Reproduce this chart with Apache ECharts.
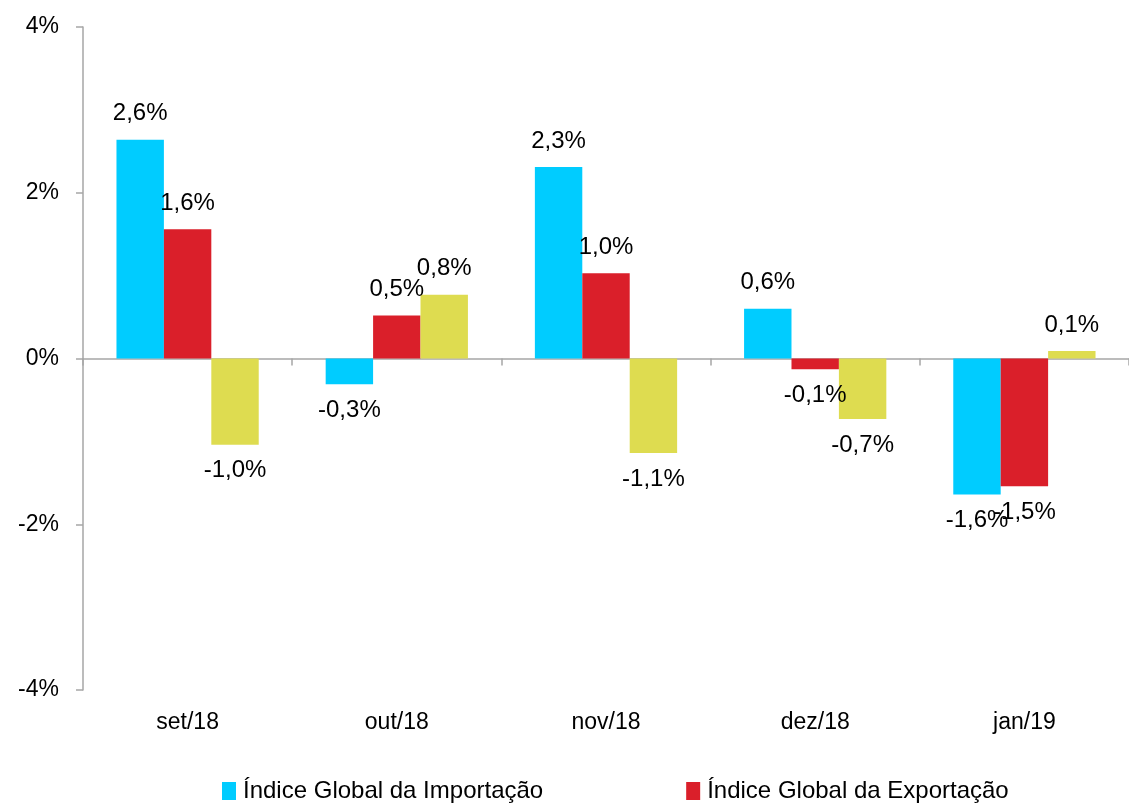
<!DOCTYPE html>
<html>
<head>
<meta charset="utf-8">
<script src="https://cdn.jsdelivr.net/npm/echarts@6/dist/echarts.min.js"></script>
<style>html,body{margin:0;padding:0;background:#fff}#c{width:1129px;height:804px}</style>
</head>
<body>
<div id="c"></div>
<script>
const categories = ['set/18', 'out/18', 'nov/18', 'dez/18', 'jan/19'];
const seriesNames = ['Índice Global da Importação', 'Índice Global da Exportação', 'Termos de Troca'];
const importacao = [2.64, -0.31, 2.31, 0.60, -1.64];
const exportacao = [1.56, 0.52, 1.03, -0.13, -1.54];
const termos = [-1.04, 0.77, -1.14, -0.73, 0.09];
const yTicks = [-4, -2, 0, 2, 4];
const colors = ['#00CCFF', '#DA1F2A', '#DEDC50'];

const FONT = 'Liberation Sans, Arial, sans-serif';
const fmt = v => v.toFixed(1).replace('.', ',') + '%';

function mkSeries(name, vals, color) {
  return {
    name: name,
    type: 'bar',
    barGap: '0%',
    barCategoryGap: '32%',
    itemStyle: { color: color },
    data: vals.map(v => ({
      value: v,
      label: { position: v >= 0 ? 'top' : 'bottom' }
    })),
    label: {
      show: true,
      distance: 14,
      fontFamily: FONT,
      fontSize: 24,
      color: '#000',
      formatter: p => fmt(p.value)
    }
  };
}

const chart = echarts.init(document.getElementById('c'), null, { renderer: 'canvas' });
chart.setOption({
  animation: false,
  textStyle: { fontFamily: FONT },
  grid: { left: 83, right: 0, top: 27, bottom: 114, containLabel: false },
  legend: {
    data: seriesNames,
    left: 222,
    top: 779,
    padding: 0,
    width: 900,
    itemWidth: 14,
    itemHeight: 18,
    itemGap: 143,
    icon: 'rect',
    textStyle: { fontFamily: FONT, fontSize: 24, color: '#000', padding: [0, 0, 0, 2] }
  },
  xAxis: [
    {
      type: 'category',
      data: categories,
      axisLine: { onZero: true, lineStyle: { color: '#A6A6A6', width: 1.5 } },
      axisTick: { show: true, length: 7, lineStyle: { color: '#A6A6A6', width: 1.5 } },
      axisLabel: { show: false }
    },
    {
      type: 'category',
      data: categories,
      position: 'bottom',
      axisLine: { show: false, onZero: false },
      axisTick: { show: false },
      axisLabel: { show: true, margin: 21, fontFamily: FONT, fontSize: 23, color: '#000' }
    }
  ],
  yAxis: {
    type: 'value',
    min: yTicks[0],
    max: yTicks[yTicks.length - 1],
    interval: 2,
    splitLine: { show: false },
    axisLine: { show: true, lineStyle: { color: '#A6A6A6', width: 1.5 } },
    axisTick: { show: true, length: 7, lineStyle: { color: '#A6A6A6', width: 1.5 } },
    axisLabel: { margin: 24, fontFamily: FONT, fontSize: 23, color: '#000', formatter: v => v + '%' }
  },
  series: [
    mkSeries(seriesNames[0], importacao, colors[0]),
    mkSeries(seriesNames[1], exportacao, colors[1]),
    mkSeries(seriesNames[2], termos, colors[2])
  ]
});
</script>
</body>
</html>
